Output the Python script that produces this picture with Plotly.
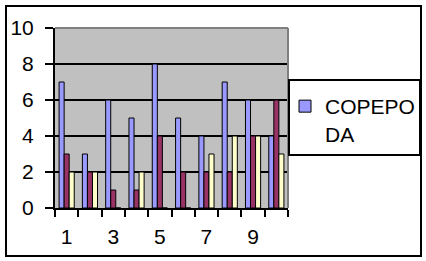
import plotly.graph_objects as go

categories = [1, 2, 3, 4, 5, 6, 7, 8, 9, 10]
series_blue = [7, 3, 6, 5, 8, 5, 4, 7, 6, 4]
series_maroon = [3, 2, 1, 1, 4, 2, 2, 2, 4, 6]
series_yellow = [2, 2, 0, 2, 0, 0, 3, 4, 4, 3]
legend_name = "COPEPO<br>DA"
x_tick_labels = ["1", "3", "5", "7", "9"]
y_tick_values = [0, 2, 4, 6, 8, 10]

FONT = "Liberation Sans, Arial, sans-serif"
fig = go.Figure()
fig.add_trace(go.Bar(x=categories, y=series_blue, name=legend_name,
                     marker=dict(color="#9999FF", line=dict(color="black", width=1))))
fig.add_trace(go.Bar(x=categories, y=series_maroon, showlegend=False,
                     marker=dict(color="#993366", line=dict(color="black", width=1))))
fig.add_trace(go.Bar(x=categories, y=series_yellow, showlegend=False,
                     marker=dict(color="#FFFFCC", line=dict(color="black", width=1))))

L, R, T, B = 55, 138, 28, 53
W, H = 426, 261
pw, ph = W - L - R, H - T - B

def px(x):
    return (x - L) / pw

def py(y):
    return (H - B - y) / ph

fig.update_layout(
    width=W, height=H,
    margin=dict(l=L, r=R, t=T, b=B, pad=0, autoexpand=False),
    paper_bgcolor="white", plot_bgcolor="#C0C0C0",
    barmode="group", bargap=0.35, bargroupgap=0,
    font=dict(family=FONT, size=21, color="black"),
    showlegend=True,
    legend=dict(x=px(285), y=py(86), xanchor="left", yanchor="top",
                bgcolor="rgba(0,0,0,0)", borderwidth=0, valign="top",
                font=dict(family=FONT, size=21, color="black"),
                itemwidth=30),
    xaxis=dict(range=[0.5, 10.5], tickmode="array",
               tickvals=[1, 3, 5, 7, 9], ticktext=x_tick_labels,
               ticks="", ticklen=0, showgrid=False, zeroline=False,
               automargin=False,
               showline=True, linecolor="black", linewidth=2,
               ticklabelstandoff=9,
               minor=dict(tickmode="array",
                          tickvals=[0.5 + i for i in range(11)],
                          ticks="outside", ticklen=7, tickwidth=2,
                          tickcolor="black", showgrid=False)),
    yaxis=dict(range=[0, 10], tickmode="array", tickvals=y_tick_values,
               ticks="outside", ticklen=8, tickwidth=2, tickcolor="black",
               showgrid=True, gridcolor="black", gridwidth=1.5,
               automargin=False,
               zeroline=False, showline=True, linecolor="black", linewidth=2,
               ticklabelstandoff=7),
    shapes=[
        dict(type="line", xref="paper", yref="paper", x0=0, x1=1, y0=1, y1=1,
             line=dict(color="#808080", width=2), layer="above"),
        dict(type="line", xref="paper", yref="paper", x0=1, x1=1, y0=0, y1=1,
             line=dict(color="#808080", width=2), layer="above"),
        dict(type="rect", xref="paper", yref="paper",
             x0=px(289), x1=px(420), y0=py(155), y1=py(80),
             line=dict(color="black", width=2), fillcolor="white",
             layer="above"),
        dict(type="rect", xref="paper", yref="paper",
             x0=px(6), x1=px(421), y0=py(256), y1=py(6),
             line=dict(color="black", width=2), fillcolor="rgba(0,0,0,0)",
             layer="above"),
    ],
)

fig.write_html("out.html")
